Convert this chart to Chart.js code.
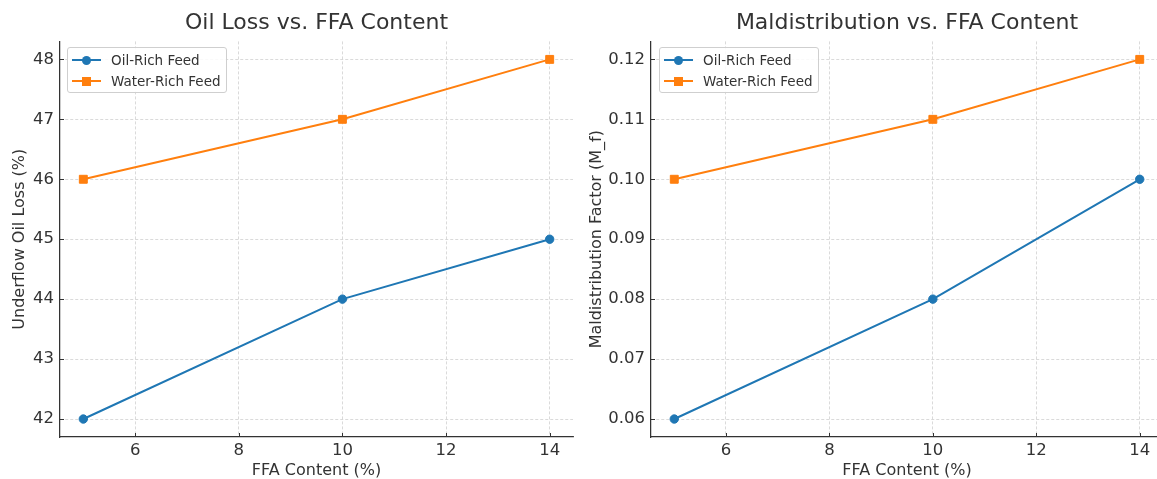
<!DOCTYPE html>
<html>
<head>
<meta charset="utf-8">
<script src="https://cdn.jsdelivr.net/npm/chart.js@4/dist/chart.umd.min.js"></script>
<style>
  html, body { margin: 0; padding: 0; background: #fff; overflow: hidden; width: 1157px; height: 479px; }
  .panel { position: absolute; top: 0; height: 479px; }
  .legend {
    position: absolute; top: 47px; width: 158px; height: 44px;
    border: 1px solid #cfcfcf; border-radius: 3px; background: rgba(255,255,255,0.85);
    font-family: "DejaVu Sans", sans-serif; font-size: 13.5px; color: #333;
  }
  .row { position: absolute; left: 0; height: 20px; width: 100%; }
  .row .ln { position: absolute; left: 4px; top: 9px; width: 29px; height: 2px; }
  .row .mk { position: absolute; width: 9px; height: 9px; left: 14px; top: 5.5px; }
  .row .tx { position: absolute; left: 43px; top: 1.5px; white-space: nowrap; }
</style>
</head>
<body>
<div class="panel" style="left:0;width:580px"><canvas id="lossChart" width="580" height="479"></canvas></div>
<div class="panel" style="left:580px;width:590px"><canvas id="maldChart" width="590" height="479"></canvas></div>
<div class="legend" id="lossLegend" style="left:67px"></div>
<div class="legend" id="maldLegend" style="left:659px"></div>
<script>
// data
const ffaContent = [5, 10, 14];
const lossOilRich = [42, 44, 45];
const lossWaterRich = [46, 47, 48];
const maldOilRich = [0.06, 0.08, 0.10];
const maldWaterRich = [0.10, 0.11, 0.12];

const xTicks = [6, 8, 10, 12, 14];
const lossTicks = [42, 43, 44, 45, 46, 47, 48];
const maldTicks = [0.06, 0.07, 0.08, 0.09, 0.10, 0.11, 0.12];

const seriesNames = ['Oil-Rich Feed', 'Water-Rich Feed'];
const blue = '#1f77b4';
const orange = '#ff7f0e';
const textColor = '#333333';
const fontFamily = '"DejaVu Sans", sans-serif';

const toPoints = (ys) => ffaContent.map((x, i) => ({ x: x, y: ys[i] }));

// matplotlib style ticks pointing inward
const innerTicks = {
    id: 'innerTicks',
    beforeDatasetsDraw(chart) {
        const ctx = chart.ctx;
        const area = chart.chartArea;
        ctx.save();
        ctx.strokeStyle = textColor;
        ctx.lineWidth = 1;
        ctx.beginPath();
        chart.scales.x.ticks.forEach(t => {
            const px = Math.round(chart.scales.x.getPixelForValue(t.value)) + 0.5;
            ctx.moveTo(px, area.bottom);
            ctx.lineTo(px, area.bottom - 4);
        });
        chart.scales.y.ticks.forEach(t => {
            const py = Math.round(chart.scales.y.getPixelForValue(t.value)) + 0.5;
            ctx.moveTo(area.left, py);
            ctx.lineTo(area.left + 4, py);
        });
        ctx.stroke();
        ctx.restore();
    }
};

function makeChart(id, title, yLabel, oilRich, waterRich, yTicks, yMin, yMax, yWidth, yTitlePad, decimals) {
    const grid = { color: '#d0d0d0', lineWidth: 0.8, drawTicks: false };
    const border = { display: true, color: textColor, width: 1.25, dash: [3, 2] };
    return new Chart(document.getElementById(id), {
        type: 'line',
        data: {
            datasets: [
                {
                    label: seriesNames[0], data: toPoints(oilRich),
                    borderColor: blue, backgroundColor: blue, borderWidth: 2,
                    pointStyle: 'circle', pointRadius: 4.2, pointBorderWidth: 1
                },
                {
                    label: seriesNames[1], data: toPoints(waterRich),
                    borderColor: orange, backgroundColor: orange, borderWidth: 2,
                    pointStyle: 'rect', pointRadius: 5.6, pointBorderWidth: 1
                }
            ]
        },
        options: {
            responsive: false,
            animation: false,
            devicePixelRatio: 1,
            layout: { padding: { left: 0, right: 7, top: 0, bottom: 0 } },
            plugins: {
                legend: { display: false },
                tooltip: { enabled: false },
                title: {
                    display: true, text: title, fullSize: false,
                    color: textColor, font: { family: fontFamily, size: 22, weight: 'normal' },
                    padding: { top: 10, bottom: 5 }
                }
            },
            scales: {
                x: {
                    type: 'linear', min: 4.55, max: 14.45,
                    grid: grid, border: border,
                    afterBuildTicks: (s) => { s.ticks = xTicks.map(v => ({ value: v })); },
                    afterFit: (s) => { s.height = 42; },
                    ticks: {
                        color: textColor, padding: 4,
                        font: { family: fontFamily, size: 16.5 },
                        callback: (v) => String(v)
                    },
                    title: {
                        display: true, text: 'FFA Content (%)', color: textColor,
                        font: { family: fontFamily, size: 16, lineHeight: 1 }, padding: { top: 0, bottom: 0 }
                    }
                },
                y: {
                    type: 'linear', min: yMin, max: yMax,
                    grid: grid, border: border,
                    afterBuildTicks: (s) => { s.ticks = yTicks.map(v => ({ value: v })); },
                    afterFit: (s) => { s.width = yWidth; },
                    ticks: {
                        color: textColor, padding: 6,
                        font: { family: fontFamily, size: 16.5 },
                        callback: (v) => Number(v).toFixed(decimals)
                    },
                    title: {
                        display: true, text: yLabel, color: textColor,
                        font: { family: fontFamily, size: 16 }, padding: { top: yTitlePad, bottom: 0 }
                    }
                }
            }
        },
        plugins: [innerTicks]
    });
}

function buildLegend(el, chart) {
    chart.data.datasets.forEach((ds, i) => {
        const row = document.createElement('div');
        row.className = 'row';
        row.style.top = (2 + i * 21) + 'px';
        const round = ds.pointStyle === 'circle';
        row.innerHTML =
            '<div class="ln" style="background:' + ds.borderColor + '"></div>' +
            '<div class="mk" style="background:' + ds.borderColor + ';border-radius:' + (round ? '50%' : '0') + '"></div>' +
            '<div class="tx">' + ds.label + '</div>';
        el.appendChild(row);
    });
}

const lossChart = makeChart('lossChart', 'Oil Loss vs. FFA Content', 'Underflow Oil Loss (%)',
    lossOilRich, lossWaterRich, lossTicks, 41.7, 48.3, 60, 10, 0);
const maldChart = makeChart('maldChart', 'Maldistribution vs. FFA Content', 'Maldistribution Factor (M_f)',
    maldOilRich, maldWaterRich, maldTicks, 0.057, 0.123, 71, 7.5, 2);

buildLegend(document.getElementById('lossLegend'), lossChart);
buildLegend(document.getElementById('maldLegend'), maldChart);
</script>
</body>
</html>
